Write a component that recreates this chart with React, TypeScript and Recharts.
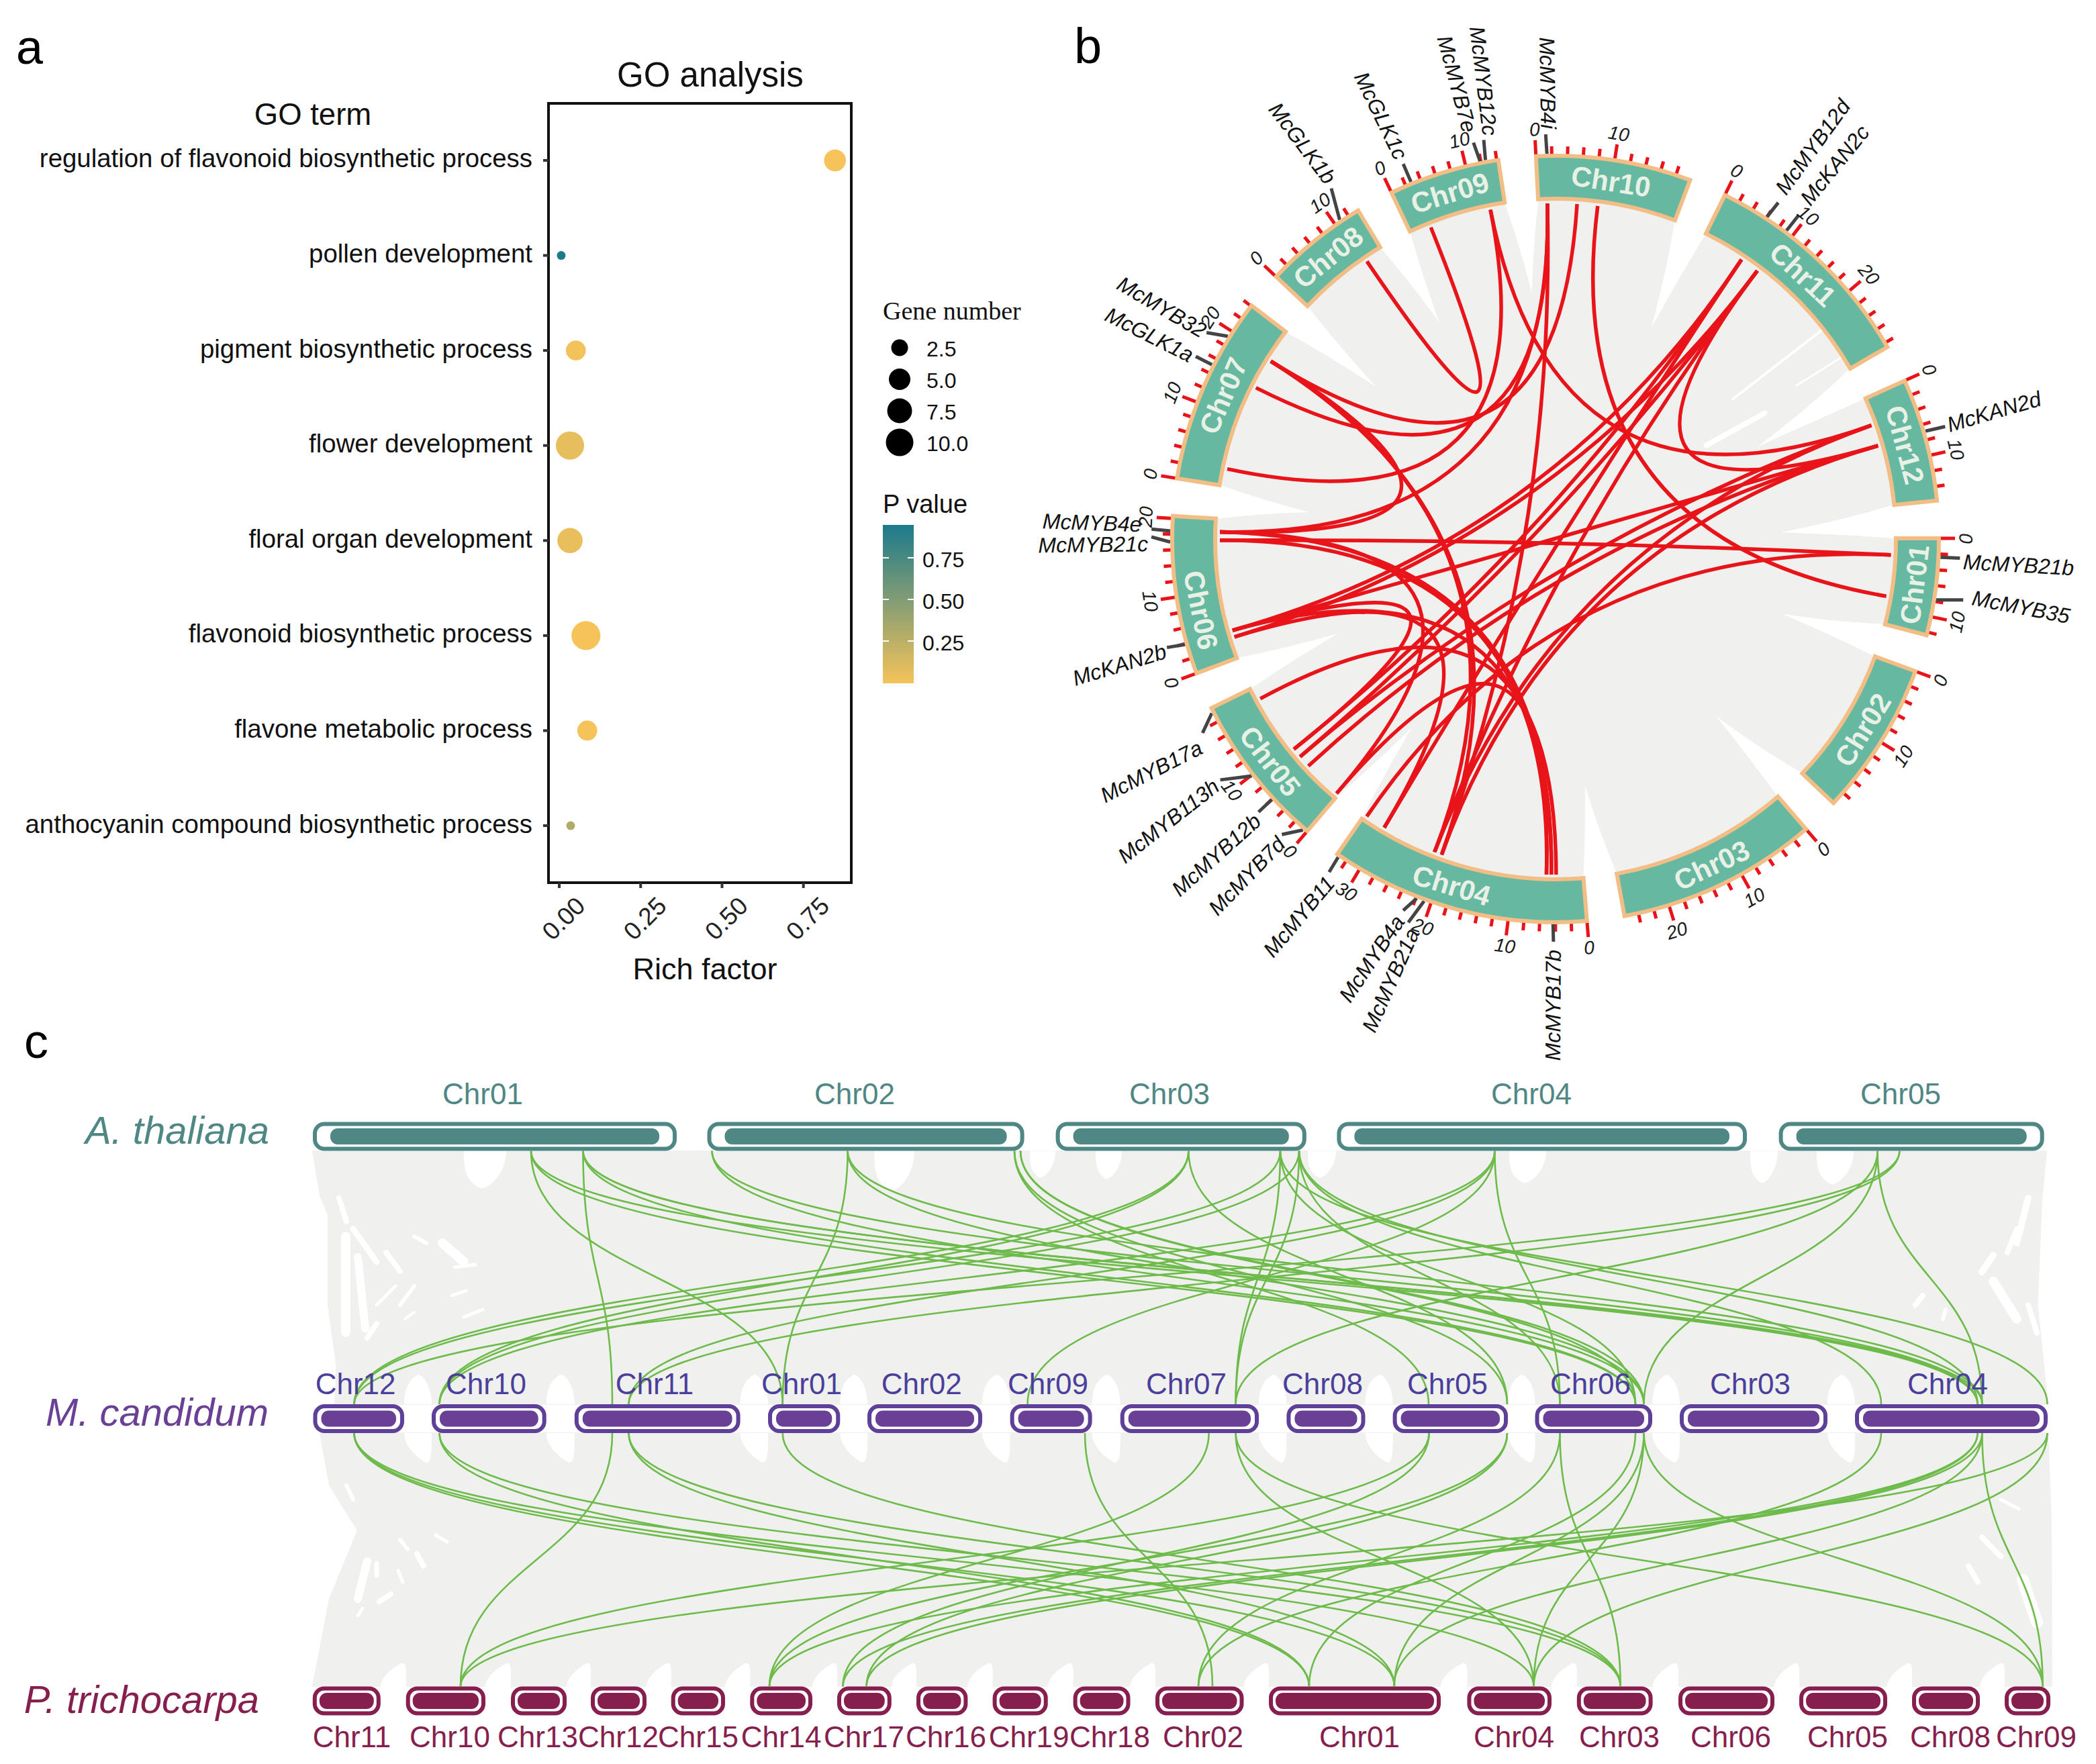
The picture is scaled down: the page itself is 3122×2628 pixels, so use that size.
import React from 'react';
import { ScatterChart, Scatter, LineChart, Line, XAxis, YAxis, ZAxis, PieChart, Pie, ReferenceArea, Cell } from 'recharts';

const SANS = '"Liberation Sans", Arial, sans-serif';
const SERIF = '"Liberation Serif", serif';

/* ---------- panel a ---------- */
const goTerms = ['regulation of flavonoid biosynthetic process','pollen development','pigment biosynthetic process','flower development','floral organ development','flavonoid biosynthetic process','flavone metabolic process','anthocyanin compound biosynthetic process'];
const richFactor = [0.847,0.006,0.051,0.033,0.033,0.082,0.086,0.035];
const geneNumber = [6,1,5,10,8,10.5,5,1];
const pValue = [0.05,0.95,0.06,0.11,0.1,0.05,0.05,0.33];
const richTicks = [0,0.25,0.5,0.75];
const legendSizes = [2.5,5,7.5,10];
const legendRadii = [12.5,16,18.5,20.5];
const pTicks = [0.75,0.5,0.25];
const goRows = goTerms.map((term,i)=>({term,row:i+1,rich:richFactor[i],genes:geneNumber[i],p:pValue[i]}));
const mixP = (p:number)=>{
  const lo=[245,195,90],hi=[28,122,138];
  const t=Math.min(1,Math.max(0,(p-0.05)/0.9));
  return `rgb(${lo.map((v,i)=>Math.round(v+(hi[i]-v)*t)).join(',')})`;
};

/* ---------- panel b ---------- */
const circosNames = ['Chr01','Chr02','Chr03','Chr04','Chr05','Chr06','Chr07','Chr08','Chr09','Chr10','Chr11','Chr12'];
const circosLengths = [12.4,19.8,25.8,33.4,19.9,20.3,24.1,13.4,14.2,19.9,28.6,15.8];
const circosLabelShift = [0,0,0,1.7,0,-2.8,0,0,0,0,0,0];
const circosStartAngle = 89.9;
const circosGap = 5.66;
const rInner = 507, rOuter = 571, rLink = 500;
const totalLen = circosLengths.reduce((a,b)=>a+b,0);
const degPerMb = (360-12*circosGap)/totalLen;
const chromStart:number[] = [];
circosLengths.reduce((acc,l,i)=>{chromStart[i]=acc;return acc+l*degPerMb+circosGap;},circosStartAngle);
const norm=(a:number)=>((a%360)+360)%360;
const angleOf=(chr:number,pos:number)=>norm(chromStart[chr-1]+pos*degPerMb);
const polar=(angle:number,r:number)=>({x:r*Math.sin(angle*Math.PI/180),y:r*Math.cos(angle*Math.PI/180)});
const gapTipRadius = [356,357,370,353,353,369,351,366,369,346,331,336];
const gapTipAngle = [108.3,137.8,173.2,217.3,246.5,276.2,310.3,331.8,354.5,24.4,65.4,88.3];
// gene: name, chromosome, position (Mb), line-end angle, line-end radius, label angle, label radius, label tilt
const circosGenes:[string,number,number,number,number,number,number,number?][] = [
  ['McMYB21b',1,2.4,92.7,603,93.2,608],['McMYB35',1,7.8,98.5,614,98,627,11],
  ['McKAN2d',12,6.9,73.9,604,73.8,608],['McMYB12d',11,6,33.5,601,32.9,616,-54],['McKAN2c',11,9,36.9,603,36.5,624,-51],
  ['McMYB4i',10,1.4,358.6,603,359,611],['McMYB12c',9,12.6,349.8,604,350.8,609,83],['McMYB7e',9,11.9,348.3,603,348.1,620,75],
  ['McGLK1c',9,2.8,337.9,603,338,612,64],['McGLK1b',8,10.8,327.4,620,327.9,629,53],['McMYB32',7,19.2,300.6,604,300.5,607],
  ['McGLK1a',7,15.1,296.9,601,296.7,606],['McMYB4e',6,18.4,271.4,602,272,617],['McMYB21c',6,17,270.3,602,269.3,607],
  ['McKAN2b',6,3.9,254.4,601,254,604,-17],['McMYB17a',5,19.3,241.2,600,239.7,612,-27],['McMYB113h',5,9.9,234.3,615,234.2,623,-38],
  ['McMYB12b',5,6,227.4,601,226.9,608,-42],['McMYB7d',5,0.5,222.8,600,222.3,607,-46],['McMYB11',4,33.1,214.2,600,213.5,608,-50],
  ['McMYB4a',4,21.9,202.3,598,202.4,610,-56],['McMYB21a',4,20.9,201,612,200,619,-66],['McMYB17b',4,4.3,180.3,600,180.3,612],
];
// chord: chromosome A, position A, chromosome B, position B
const circosLinks:[number,number,number,number][] = [
  [8,10.7,9,3],[9,12,7,2.5],[9,12,12,3.9],[10,8.6,1,8.4],[10,5.6,7,19.4],[10,1.3,7,15],[6,18.4,10,1.3],[10,1.3,4,20.8],
  [7,19.4,6,18.4],[7,19.4,4,20.8],[7,19.4,4,21.9],[6,17.2,1,2.4],[1,2.4,4,33],[6,18.4,4,4.6],[6,17.2,4,5.3],[5,18,4,3.9],[6,18.4,5,0.3],[6,4,11,6.3],
  [6,3,11,9.1],[6,4,12,7],[6,4,5,9.2],[6,3,4,30],[6,4,4,4.6],[5,9.2,11,6.3],[5,7.8,11,9.1],[5,6,12,7],[5,7.8,12,3.9],
  [5,0.3,4,5.3],[4,30,11,6.3],[4,21.9,11,9.1],[4,20.8,12,7],[4,21.9,12,3.9],[11,9.1,12,7],
];
const circosSlits = [[395,310,264,208.5,4],[424,269.5,358.5,228.5,3],[311.5,187.5,224.5,139.5,8]];

/* ---------- panel c ---------- */
const RED='#e8141a', GREEN='#6dbb4a', GRAY='#f0f0ef';
const rowTeal='#4f8785', rowPurple='#6a3f96', rowMaroon='#861f4e';
const yA=1693, yM=2113.5, yP=2534, halfBox=21.5;
const aNames=['Chr01','Chr02','Chr03','Chr04','Chr05'];
const aSpans=[[466,1008],[1053.5,1525.6],[1572.6,1945.8],[1991.4,2602],[2649.6,3044.7]];
const aLabelAt=[719,1273,1742,2281,2831];
const mNames=['Chr12','Chr10','Chr11','Chr01','Chr02','Chr09','Chr07','Chr08','Chr05','Chr06','Chr03','Chr04'];
const mSpans=[[466.5,602],[643,813.7],[855.8,1102.6],[1144,1251.3],[1292,1463],[1504.6,1626.6],[1668.7,1875],[1916.4,2033.5],[2074.6,2246],[2286.5,2461],[2502,2722],[2763,3050]];
const mLabelAt=[529.6,724,975,1194,1372.7,1561,1767,1970,2156,2369,2607,2901];
const pNames=['Chr11','Chr10','Chr13','Chr12','Chr15','Chr14','Chr17','Chr16','Chr19','Chr18','Chr02','Chr01','Chr04','Chr03','Chr06','Chr05','Chr08','Chr09'];
const pSpans=[[465.8,566.8],[604.7,723],[761,844],[880,963],[999.7,1080],[1117.3,1210],[1247,1327.8],[1365,1441.4],[1478.6,1560.7],[1598.6,1683.5],[1721,1852.5],[1890,2146],[2185.4,2311],[2348.8,2461.6],[2500,2643],[2680,2811],[2848,2949],[2986,3054]];
const pLabelAt=[524,670,801,921,1040,1163.6,1287,1409,1532.6,1653,1792,2025,2255,2412,2578,2752,2905,3033];
const topLinks:[number,number][]=[
  [791,1165.7],[791,2436],[791,2945.6],[868.5,912],[868.5,2436],[868.5,2945.6],[868.5,2952.4],[1060.5,2448.6],[1060.5,2945.6],
  [1262.6,1165.7],[1262.6,2448.6],[1262.6,2952.4],[1511,2128],[1511,2245],[1520,2436],[1520,2448.6],[1770.4,527.5],[1770.4,654.5],[1770.4,2245],
  [1907,1840.6],[1907,527.5],[1907,2436],[1907,3049.5],[1935,1840.6],[1935,654.5],[1935,2323.5],[1935,2802],[1935,2945.6],
  [2226.4,936.5],[2226.4,654.5],[2226.4,1530.5],[2226.4,2323.5],[2796.6,2952.4],[2796.6,2448.6],[2796.6,1840.6],[2829.4,936.5],[2829.4,527.5],
];
const bottomLinks:[number,number][]=[
  [527.5,2077],[527.5,2284.5],[527.5,1950],[654.5,1950],[654.5,2413.7],[912,686],[936.5,2077],[936.5,2413.7],[1165.7,2413.7],[1616,1806],[1800.6,1146],
  [1840.6,2284.5],[1840.6,3042.7],[2128.6,1255.5],[2128.6,686],[2245,1290.6],[2245,1146],[2323.5,1785],[2323.5,2413.7],[2436,1950],
  [2448.6,2077],[2448.6,2284.5],[2448.6,3042.7],[2802,1785],[2945.6,1146],[2952.4,1290.6],[2952.4,2076.3],[2952.4,3042.7],[3049.5,2284.5],[3049.5,686],[2945.6,1255.5],
];
const silhouetteTop=[[466,1715],[477,1781],[489,1810],[489,1944],[501.6,2036],[499,2092],[3050,2092],[3034.5,1944],[3041,1788.6],[3048,1715]];
const silhouetteBottom=[[477,2135],[491,2212.6],[533,2280],[491,2382],[466,2512],[3056,2512],[3055,2262],[3050,2135]];
const aNotches=[[691,754,56],[1302.5,1362,60],[1534,1572,40],[1632,1671,42],[1948,1990,40],[2248,2303,48],[2607,2648,48],[2706,2761,50]];
const flecks=[
  [505,1785,516,1820,8],[526,1831,561,1880,9],[515,1842,515,1985,14],[533,1873,544,1979,12],[575,1866,596,1894,8],[617,1842,635,1852,6],[659,1852,691,1880,14],
  [677,1888,708,1884,5],[673,1930,694,1923,5],[691,1962,719,1951,5],[596,1944,617,1916,6],[561,1944,589,1916,5],[547,1993,561,1972,8],[603,1965,617,1955,4],
  [516,2213,526,2234,6],[596,2294,607,2308,6],[621,2315,631,2333,8],[649,2287,666,2297,5],[547,2326,533,2382,12],[561,2329,561,2347,7],[582,2375,565,2386,8],[593,2340,600,2357,5],[540,2396,533,2407,5],
  [3021,1785,3004,1852,10],[3004,1831,2990,1866,8],[2969,1870,2952,1895,10],[2969,1909,3004,1965,14],[2864,1930,2853,1944,8],[2898,1951,2894,1965,6],[3021,1944,3034,1986,8],
  [2952,2290,2980,2319,8],[2932,2333,2946,2357,8],[3013,2354,3034,2417,18],[2980,2234,3007,2248,5],
];

/* ---------- helpers ---------- */
const rot=(a:number)=>(a<=90||a>=270)?a:a-180;
const chordCurve=(ctx:any)=>{
  let pts:number[][]=[];
  return {
    areaStart(){},areaEnd(){},
    lineStart(){pts=[];},
    lineEnd(){ if(pts.length===3){ctx.moveTo(pts[0][0],pts[0][1]);ctx.quadraticCurveTo(pts[1][0],pts[1][1],pts[2][0],pts[2][1]);} },
    point(x:number,y:number){pts.push([x,y]);},
  };
};
const abs=(left:number,top:number,width:number,height:number):React.CSSProperties=>({position:'absolute',left,top,width,height});

const HALF=820;
const circosBox={left:2316.5-HALF,top:802.5-HALF,size:HALF*2};
const cBox={left:0,top:1600,width:3122,height:1028};

function circosBackgroundShape(p:any){
  const {cx,cy}=p;
  const P=(a:number,r:number)=>{const q=polar(a,r);return `${(cx+q.x).toFixed(1)} ${(cy-q.y).toFixed(1)}`;};
  const rb=rInner-2;
  let d='';
  circosLengths.forEach((l,i)=>{
    const s=chromStart[i],e=s+l*degPerMb;
    const next=chromStart[(i+1)%12]+(i===11?360:0);
    d+=(i===0?'M':'L')+P(s,rb);
    d+=` A ${rb} ${rb} 0 ${l*degPerMb>180?1:0} 1 ${P(e,rb)} `;
    let tipA=gapTipAngle[i]; if(tipA<e-180) tipA+=360;
    const tipR=gapTipRadius[i];
    d+=`Q ${P((e+tipA)/2,(rb+tipR)/2+8)} ${P(tipA,tipR)} Q ${P((next+tipA)/2,(rb+tipR)/2+8)} ${P(next,rb)} `;
  });
  d+='Z';
  return <path d={d} fill={GRAY}/>;
}
function fleckShape(p:any){
  const v=p.payload;
  return <line x1={p.cx} y1={p.cy} x2={p.cx+v.dx} y2={p.cy+v.dy} stroke="#fff" strokeWidth={v.w} strokeLinecap="round"/>;
}
const silhouetteShape=(pts:number[][])=>(p:any)=>{
  const ox=p.cx-pts[0][0],oy=p.cy-pts[0][1];
  const d=pts.map((q,i)=>`${i?'L':'M'}${q[0]+ox} ${q[1]+oy}`).join(' ')+'Z';
  return <path d={d} fill={GRAY} stroke={GRAY} strokeLinejoin="round" strokeWidth={2}/>;
};
function notchShape(p:any){
  const {cx,cy,payload:v}=p;
  const x1=cx-v.w/2,x2=cx+v.w/2,d=v.d,s=v.dir,w=v.w;
  const tip=cx+v.skew*w;
  const path=`M${x1} ${cy} L${x2} ${cy} C${x2} ${cy+s*d*0.6} ${tip+0.2*w} ${cy+s*d} ${tip} ${cy+s*d} C${tip-0.4*w} ${cy+s*d*0.8} ${x1} ${cy+s*d*0.4} ${x1} ${cy} Z`;
  return <path d={path} fill="#fff"/>;
}

const tickLines=(major:boolean)=>{
  const out:any[]=[];
  circosLengths.forEach((l,i)=>{
    for(let m=0;m<=l+0.001;m+=2){
      if((m%10===0)!==major) continue;
      const a=angleOf(i+1,m);
      const p=polar(a,rOuter+2),q=polar(a,major?595:585);
      out.push({x:p.x,y:p.y},{x:q.x,y:q.y},{x:q.x,y:null});
    }
  });
  return out;
};
const tickLabels=(()=>{
  const out:any[]=[];
  circosLengths.forEach((l,i)=>{
    for(let m=0;m<=l;m+=10){const a=angleOf(i+1,m);const p=polar(a,611);out.push({x:p.x,y:p.y,label:String(m),angle:a});}
  });
  return out;
})();
const geneLineData=(()=>{
  const out:any[]=[];
  circosGenes.forEach(g=>{
    const a=polar(angleOf(g[1],g[2]),rOuter+3),b=polar(g[3],g[4]);
    out.push({x:a.x,y:a.y},{x:b.x,y:b.y},{x:b.x,y:null});
  });
  return out;
})();
const geneLabels=circosGenes.map(g=>{const p=polar(g[5],g[6]);return {x:p.x,y:p.y,label:g[0],angle:g[5],tilt:g[7]};});
const chordData=circosLinks.map(l=>{
  const a=polar(angleOf(l[0],l[1]),rLink),b=polar(angleOf(l[2],l[3]),rLink);
  return [a,{x:0,y:0},b];
});
const bgPoint=[{x:0,y:0}];
const slitData=circosSlits.map(s=>({x:s[0],y:s[1],dx:s[2]-s[0],dy:-(s[3]-s[1]),w:s[4]}));

function tickLabelShape(p:any){
  const v=p.payload;
  return <text x={p.cx} y={p.cy} transform={`rotate(${rot(v.angle)} ${p.cx} ${p.cy})`} textAnchor="middle" dominantBaseline="central" fontSize={28} fontStyle="italic" fontFamily={SANS} fill="#1a1a1a">{v.label}</text>;
}
function geneLabelShape(p:any){
  const v=p.payload; const right=v.angle<180;
  const r=v.tilt!==undefined?v.tilt:(right?v.angle-90:v.angle+90);
  return <text x={p.cx} y={p.cy} transform={`rotate(${r} ${p.cx} ${p.cy})`} textAnchor={right?'start':'end'} dominantBaseline="central" fontSize={32} fontStyle="italic" fontFamily={SANS} fill="#111">{v.label}</text>;
}
const pieData=circosNames.map((name,i)=>({name,len:circosLengths[i]}));
function pieLabel(p:any){
  const i=p.index;
  const mid=norm(chromStart[i]+circosLengths[i]*degPerMb/2+circosLabelShift[i]);
  const q=polar(mid,(rInner+rOuter)/2);
  const x=HALF+q.x,y=HALF-q.y;
  return <text key={i} x={x} y={y} transform={`rotate(${rot(mid)} ${x} ${y})`} textAnchor="middle" dominantBaseline="central" fontSize={42} fontWeight="bold" fontFamily={SANS} fill="#e9f1e6">{circosNames[i]}</text>;
}

/* panel c derived tables */
const midGaps=(sp:number[][],y:number,dir:number,d:number,skew:number)=>sp.slice(0,-1).map((q,i)=>({x:(q[1]+sp[i+1][0])/2,y,w:sp[i+1][0]-q[1],d,dir,skew}));
const notchData=[
  ...aNotches.map(n=>({x:(n[0]+n[1])/2,y:yA+halfBox,w:n[1]-n[0],d:n[2],dir:1,skew:-0.1})),
  ...midGaps(mSpans,yM-halfBox,-1,44,0),
  ...midGaps(mSpans,yM+halfBox,1,44,0.3),
  ...midGaps(pSpans,yP-halfBox+1,-1,36,0.35),
];
const fleckData=flecks.map(f=>({x:f[0],y:f[1],dx:f[2]-f[0],dy:f[3]-f[1],w:f[4]}));

const renderBoxes=(spans:number[][],y:number,color:string,inset:number,edge:string)=>spans.flatMap((s,i)=>[
  <ReferenceArea key={'o'+y+i} x1={s[0]+3} x2={s[1]-3} y1={y-halfBox+3} y2={y+halfBox-3} fill="#fff" fillOpacity={1} stroke={edge} strokeOpacity={1} strokeWidth={6} radius={14} ifOverflow="visible"/>,
  <ReferenceArea key={'i'+y+i} x1={s[0]+inset} x2={s[1]-inset} y1={y-12} y2={y+12} fill={color} fillOpacity={1} stroke="none" radius={11} ifOverflow="visible"/>,
]);
const pointOf=(q:number[])=>[{x:q[0],y:q[1]}];

export default function App(){
  return (
    <div style={{...abs(0,0,3122,2628),background:'#fff',overflow:'hidden',fontFamily:SANS}}>
      {/* panel a */}
      <div style={abs(0,0,1300,1500)}>
        <ScatterChart width={1300} height={1500} margin={{left:0,right:32,top:154,bottom:0}}>
          <XAxis type="number" dataKey="rich" domain={[-0.033,0.897]} allowDataOverflow ticks={richTicks} interval={0} axisLine={false}
            tickSize={8} tickLine={{stroke:'#333',strokeWidth:4}} height={185}
            tick={(p:any)=><text x={p.x+32} y={p.y+18} transform={`rotate(-45 ${p.x+32} ${p.y+18})`} textAnchor="end" dominantBaseline="central" fontSize={37} fontFamily={SANS} fill="#222">{Number(p.payload.value).toFixed(2)}</text>}/>
          <YAxis type="number" dataKey="row" reversed domain={[0.4,8.6]} allowDataOverflow ticks={[1,2,3,4,5,6,7,8]} interval={0} width={817} axisLine={false}
            tickSize={8} tickLine={{stroke:'#333',strokeWidth:4}}
            tick={(p:any)=><text x={p.x-14} y={p.y-3} textAnchor="end" dominantBaseline="central" fontSize={38.4} fontFamily={SANS} fill="#111">{goTerms[p.payload.value-1]}</text>}/>
          <ZAxis type="number" dataKey="genes" domain={[1,10]} range={[133,1460]}/>
          <ReferenceArea x1={-0.033} x2={0.897} y1={0.4} y2={8.6} fill="none" stroke="#111" strokeOpacity={1} strokeWidth={4} ifOverflow="visible"/>
          <Scatter data={goRows} isAnimationActive={false}>
            {goRows.map((d,i)=><Cell key={i} fill={mixP(d.p)}/>)}
          </Scatter>
        </ScatterChart>
      </div>

      {/* panel b: grey ribbons */}
      <div style={abs(circosBox.left,circosBox.top,circosBox.size,circosBox.size)}>
        <ScatterChart width={HALF*2} height={HALF*2} margin={{left:0,right:0,top:0,bottom:0}}>
          <XAxis hide type="number" dataKey="x" domain={[-HALF,HALF]} allowDataOverflow/>
          <YAxis hide type="number" dataKey="y" domain={[-HALF,HALF]} allowDataOverflow/>
          <Scatter data={bgPoint} shape={circosBackgroundShape} isAnimationActive={false}/>
          <Scatter data={slitData} shape={fleckShape} isAnimationActive={false}/>
        </ScatterChart>
      </div>
      {/* panel b: chords, ticks and gene leaders */}
      <div style={abs(circosBox.left,circosBox.top,circosBox.size,circosBox.size)}>
        <LineChart width={HALF*2} height={HALF*2} margin={{left:0,right:0,top:0,bottom:0}}>
          <XAxis hide type="number" dataKey="x" domain={[-HALF,HALF]} allowDataOverflow/>
          <YAxis hide type="number" domain={[-HALF,HALF]} allowDataOverflow/>
          {chordData.map((d,i)=><Line key={i} data={d} dataKey="y" type={chordCurve as any} stroke={RED} strokeWidth={5.5} fill="none" dot={false} activeDot={false} isAnimationActive={false} legendType="none"/>)}
          <Line data={tickLines(false)} dataKey="y" type="linear" stroke={RED} strokeWidth={5} dot={false} activeDot={false} isAnimationActive={false} legendType="none"/>
          <Line data={tickLines(true)} dataKey="y" type="linear" stroke={RED} strokeWidth={5} dot={false} activeDot={false} isAnimationActive={false} legendType="none"/>
          <Line data={geneLineData} dataKey="y" type="linear" stroke="#444" strokeWidth={5} dot={false} activeDot={false} isAnimationActive={false} legendType="none"/>
        </LineChart>
      </div>
      {/* panel b: text */}
      <div style={abs(circosBox.left,circosBox.top,circosBox.size,circosBox.size)}>
        <ScatterChart width={HALF*2} height={HALF*2} margin={{left:0,right:0,top:0,bottom:0}}>
          <XAxis hide type="number" dataKey="x" domain={[-HALF,HALF]} allowDataOverflow/>
          <YAxis hide type="number" dataKey="y" domain={[-HALF,HALF]} allowDataOverflow/>
          <Scatter data={tickLabels} shape={tickLabelShape} isAnimationActive={false}/>
          <Scatter data={geneLabels} shape={geneLabelShape} isAnimationActive={false}/>
        </ScatterChart>
      </div>
      {/* panel b: chromosome ring */}
      <div style={abs(circosBox.left,circosBox.top,circosBox.size,circosBox.size)}>
        <PieChart width={HALF*2} height={HALF*2} margin={{left:0,right:0,top:0,bottom:0}}>
          <Pie data={pieData} dataKey="len" nameKey="name" cx={HALF} cy={HALF} innerRadius={rInner} outerRadius={rOuter}
            startAngle={90-circosStartAngle} endAngle={90-circosStartAngle-360} paddingAngle={circosGap}
            fill="#66b8a0" stroke="#f3bd86" strokeWidth={6} label={pieLabel} labelLine={false} isAnimationActive={false}/>
        </PieChart>
      </div>

      {/* panel c: grey synteny */}
      <div style={abs(cBox.left,cBox.top,cBox.width,cBox.height)}>
        <ScatterChart width={3122} height={1028} margin={{left:0,right:0,top:0,bottom:0}}>
          <XAxis hide type="number" dataKey="x" domain={[0,3122]} allowDataOverflow/>
          <YAxis hide type="number" dataKey="y" reversed domain={[1600,2628]} allowDataOverflow/>
          <Scatter data={pointOf(silhouetteTop[0])} shape={silhouetteShape(silhouetteTop)} isAnimationActive={false}/>
          <Scatter data={pointOf(silhouetteBottom[0])} shape={silhouetteShape(silhouetteBottom)} isAnimationActive={false}/>
          <Scatter data={notchData} shape={notchShape} isAnimationActive={false}/>
          <Scatter data={fleckData} shape={fleckShape} isAnimationActive={false}/>
        </ScatterChart>
      </div>
      {/* panel c: links and chromosomes */}
      <div style={abs(cBox.left,cBox.top,cBox.width,cBox.height)}>
        <LineChart width={3122} height={1028} margin={{left:0,right:0,top:0,bottom:0}}>
          <XAxis hide type="number" dataKey="x" domain={[0,3122]} allowDataOverflow/>
          <YAxis hide type="number" reversed domain={[1600,2628]} allowDataOverflow/>
          {renderBoxes(aSpans,yA,rowTeal,26,rowTeal)}
          {renderBoxes(mSpans,yM,rowPurple,12,'#5f4098')}
          {renderBoxes(pSpans,yP,rowMaroon,10,rowMaroon)}
          {topLinks.map((l,i)=><Line key={'t'+i} data={[{x:l[0],y:yA+halfBox},{x:l[1],y:yM-halfBox}]} dataKey="y" type="bumpY" stroke={GREEN} strokeWidth={2.6} dot={false} activeDot={false} isAnimationActive={false} legendType="none"/>)}
          {bottomLinks.map((l,i)=><Line key={'b'+i} data={[{x:l[0],y:yM+halfBox},{x:l[1],y:yP-halfBox}]} dataKey="y" type="bumpY" stroke={GREEN} strokeWidth={2.6} dot={false} activeDot={false} isAnimationActive={false} legendType="none"/>)}
        </LineChart>
      </div>

      {/* text and legends */}
      <svg style={{...abs(0,0,3122,2628),pointerEvents:'none'}} width={3122} height={2628} fontFamily={SANS}>
        <defs>
          <linearGradient id="pbar" x1="0" y1="0" x2="0" y2="1">
            <stop offset="0" stopColor="#1c7a8c"/><stop offset="1" stopColor="#f5c35a"/>
          </linearGradient>
        </defs>
        <text x={24} y={95} fontSize={72} fill="#000">a</text>
        <text x={1600} y={94} fontSize={74} fill="#000">b</text>
        <text x={36} y={1576} fontSize={72} fill="#000">c</text>
        <text x={1058} y={129} textAnchor="middle" fontSize={51} fill="#111">GO analysis</text>
        <text x={466} y={186} textAnchor="middle" fontSize={45.5} fill="#111">GO term</text>
        <text x={1050} y={1459} textAnchor="middle" fontSize={45} fill="#111">Rich factor</text>
        <text x={1315} y={476} fontSize={38} fontFamily={SERIF} fill="#111">Gene number</text>
        {legendSizes.map((s,i)=>(
          <g key={s}>
            <circle cx={1340} cy={518+47*i} r={legendRadii[i]} fill="#000"/>
            <text x={1380} y={520+47*i} dominantBaseline="central" fontSize={32} fill="#111">{s.toFixed(1)}</text>
          </g>
        ))}
        <text x={1315} y={764} fontSize={38} fill="#111">P value</text>
        <rect x={1315} y={782} width={46} height={236} fill="url(#pbar)"/>
        {pTicks.map((t,i)=>(
          <g key={t}>
            <line x1={1315} x2={1324} y1={831+62*i} y2={831+62*i} stroke="#fff" strokeWidth={2}/>
            <line x1={1352} x2={1361} y1={831+62*i} y2={831+62*i} stroke="#fff" strokeWidth={2}/>
            <text x={1374} y={834+62*i} dominantBaseline="central" fontSize={32} fill="#111">{t.toFixed(2)}</text>
          </g>
        ))}
        <text x={401} y={1704} textAnchor="end" fontSize={58} fontStyle="italic" fill={rowTeal}>A. thaliana</text>
        <text x={400} y={2124} textAnchor="end" fontSize={58} fontStyle="italic" fill={rowPurple}>M. candidum</text>
        <text x={386} y={2552} textAnchor="end" fontSize={58} fontStyle="italic" fill={rowMaroon}>P. trichocarpa</text>
        {aNames.map((n,i)=><text key={i} x={aLabelAt[i]} y={1645} textAnchor="middle" fontSize={44} fill={rowTeal}>{n}</text>)}
        {mNames.map((n,i)=><text key={i} x={mLabelAt[i]} y={2077} textAnchor="middle" fontSize={44} fill="#4b3f9c">{n}</text>)}
        {pNames.map((n,i)=><text key={i} x={pLabelAt[i]} y={2603} textAnchor="middle" fontSize={44} fill={rowMaroon}>{n}</text>)}
      </svg>
    </div>
  );
}
